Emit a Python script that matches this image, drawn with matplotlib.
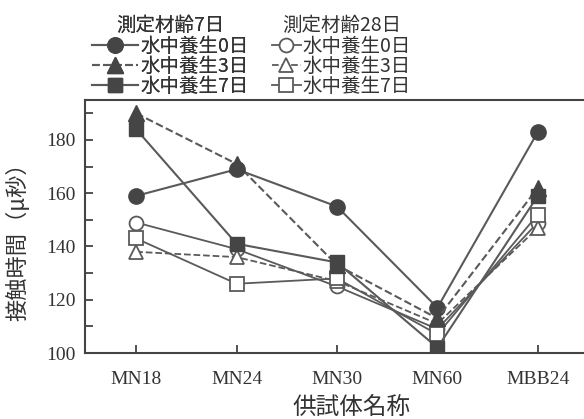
import matplotlib
matplotlib.use('Agg')
import matplotlib.pyplot as plt
import numpy as np

plt.rcParams['font.family'] = ['Liberation Serif', 'Noto Sans CJK JP']

specimens = ['MN18', 'MN24', 'MN30', 'MN60', 'MBB24']

# contact time (micro-seconds), tested at 7 days
d7_cure0 = [159, 169, 155, 117, 183]
d7_cure3 = [190, 171, 133, 113, 162]
d7_cure7 = [184, 141, 134, 102, 159]
# tested at 28 days
d28_cure0 = [149, 139, 125, 109, 149]
d28_cure3 = [138, 136, 127, 111, 147]
d28_cure7 = [143, 126, 128, 107, 152]

cure_labels = ['水中養生0日', '水中養生3日', '水中養生7日']

x = np.arange(len(specimens))
line_c = '#5a5a5a'
fill_c = '#454545'

fig = plt.figure(figsize=(5.84, 4.19), dpi=100)
ax = fig.add_axes([85/584, 1 - 353/419, 499/584, 253/419])

# 28-day series (open markers) go underneath
h28 = []
for vals, mk, ls in zip([d28_cure0, d28_cure3, d28_cure7],
                        ['o', '^', 's'], ['-', '--', '-']):
    h, = ax.plot(x, vals, ls, marker=mk, color=line_c, lw=1.3, ms=10,
                 mfc='white', mec=line_c, mew=1.3)
    h28.append(h)

h7 = []
for vals, mk, ls, ms in zip([d7_cure0, d7_cure3, d7_cure7],
                            ['o', '^', 's'], ['-', '--', '-'], [11, 11, 10]):
    h, = ax.plot(x, vals, ls, marker=mk, color=line_c, lw=1.5, ms=ms,
                 mfc=fill_c, mec=fill_c)
    h7.append(h)

ax.set_xlim(-0.51, 4.46)
ax.set_ylim(100, 195)
ax.set_xticks(x)
ax.set_xticklabels(specimens)
ax.set_yticks([100, 120, 140, 160, 180])
ax.set_yticks([110, 130, 150, 170, 190], minor=True)
ax.tick_params(direction='in', length=6, width=1.2, labelsize=14,
               colors='#333333', pad=7)
ax.tick_params(which='minor', direction='in', length=6, width=1.2,
               colors='#333333')
ax.tick_params(axis='x', pad=13)
ax.spines['right'].set_visible(False)
for s in ['left', 'bottom', 'top']:
    ax.spines[s].set_linewidth(1.5)
    ax.spines[s].set_color('#444444')

cjk = ['Noto Sans CJK JP']
ax.set_xlabel('供試体名称', fontsize=17, family=cjk, color='#333333')
ax.xaxis.set_label_coords(0.535, -0.168)
ax.set_ylabel('接触時間（μ秒）', fontsize=16, family=cjk, color='#333333')
ax.yaxis.set_label_coords(-0.112, 0.46)

leg_font = {'family': cjk, 'size': 14}
leg1 = fig.legend(h7, cure_labels, loc='upper left',
                  bbox_to_anchor=(82/584, 1 - 5/419), title='測定材齢7日',
                  prop=leg_font, title_fontproperties=leg_font,
                  frameon=False, handlelength=2.4, handletextpad=0.1,
                  labelspacing=-0.05, borderpad=0.0, labelcolor='#333333')
leg2 = fig.legend(h28, cure_labels, loc='upper left',
                  bbox_to_anchor=(262/584, 1 - 5/419), title='測定材齢28日',
                  prop=leg_font, title_fontproperties=leg_font,
                  frameon=False, handlelength=1.5, handletextpad=0.1,
                  labelspacing=-0.05, borderpad=0.0, labelcolor='#333333')
for lg in (leg1, leg2):
    lg.get_title().set_color('#333333')
    lg._legend_box.sep = 0
fig.add_artist(leg1)

fig.savefig('out.png', dpi=100)
